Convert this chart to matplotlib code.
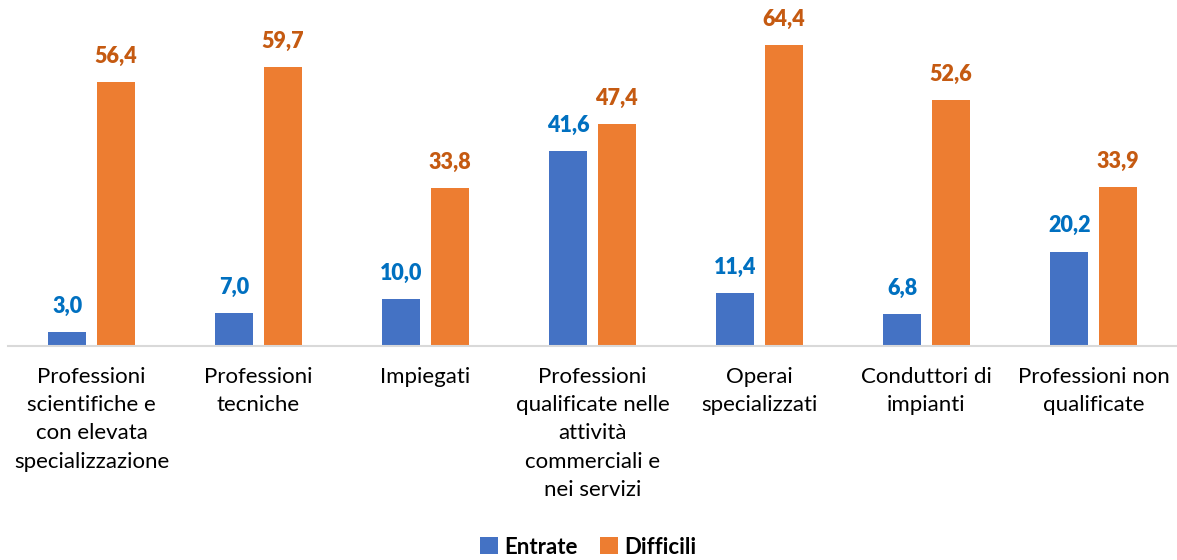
import numpy as np
import matplotlib
matplotlib.use("Agg")
import matplotlib.pyplot as plt

plt.rcParams['font.family'] = ['Lato', 'DejaVu Sans']

categorie = [
    "Professioni\nscientifiche e\ncon elevata\nspecializzazione",
    "Professioni\ntecniche",
    "Impiegati",
    "Professioni\nqualificate nelle\nattività\ncommerciali e\nnei servizi",
    "Operai\nspecializzati",
    "Conduttori di\nimpianti",
    "Professioni non\nqualificate",
]
entrate = [3.0, 7.0, 10.0, 41.6, 11.4, 6.8, 20.2]
difficili = [56.4, 59.7, 33.8, 47.4, 64.4, 52.6, 33.9]

blu = "#4472C4"
arancio = "#ED7D31"
blu_testo = "#0070C0"
arancio_testo = "#C55A11"

fig = plt.figure(figsize=(11.77, 5.6), dpi=100)
ax = fig.add_axes([8 / 1177, 1 - 346 / 560, 1169 / 1177, 346 / 560])

x = np.arange(len(categorie))
w = 0.227
off = 0.144
b1 = ax.bar(x - off, entrate, w, color=blu, label="Entrate")
b2 = ax.bar(x + off, difficili, w, color=arancio, label="Difficili")

def etichette(bars, valori, colore):
    for b, v in zip(bars, valori):
        ax.annotate(f"{v:.1f}".replace(".", ","),
                    (b.get_x() + b.get_width() / 2, b.get_height()),
                    xytext=(0, 11), textcoords="offset points",
                    ha="center", va="bottom", fontsize=15.5,
                    fontweight="heavy", color=colore)

etichette(b1, entrate, blu_testo)
etichette(b2, difficili, arancio_testo)

ax.set_xlim(-0.5, len(categorie) - 0.5)
ax.set_ylim(0, 74)
ax.set_yticks([])
ax.set_xticks(x)
ax.set_xticklabels(categorie, fontsize=16, color="#000000", linespacing=1.52)
ax.tick_params(axis="x", length=0, pad=15)
for s in ["top", "right", "left"]:
    ax.spines[s].set_visible(False)
ax.spines["bottom"].set_color("#D9D9D9")
ax.spines["bottom"].set_linewidth(1.5)

leg = fig.legend(handles=[b1, b2], loc="center", bbox_to_anchor=(0.5, 1 - 547 / 560),
                 ncol=2, frameon=False, handlelength=0.8, handleheight=0.8,
                 handletextpad=0.3, columnspacing=1.0,
                 prop={"size": 16, "weight": "bold"})

fig.savefig("out.png", dpi=100)
